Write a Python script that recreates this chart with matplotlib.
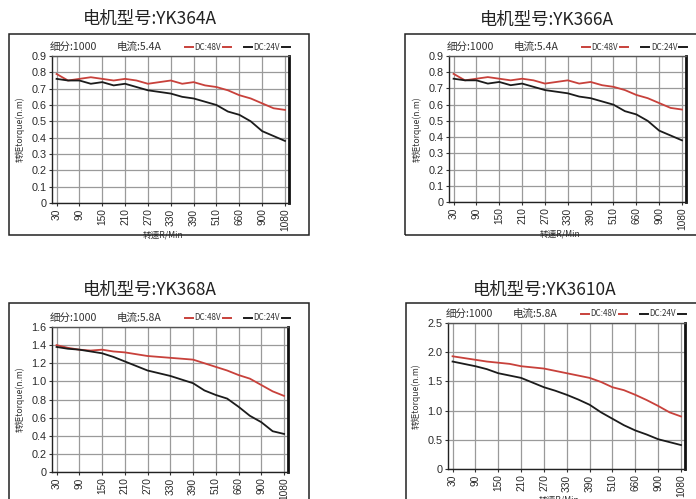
import matplotlib
matplotlib.use("Agg")
import matplotlib.pyplot as plt
from matplotlib.patches import Rectangle
from matplotlib.lines import Line2D

plt.rcParams['font.family'] = ['Noto Sans CJK SC', 'DejaVu Sans']

# ---------------- data ----------------
speed_labels = ["30", "90", "150", "210", "270", "330", "390", "510", "660", "900", "1080"]
n_points = 21

yk364a_48v = [0.79, 0.75, 0.76, 0.77, 0.76, 0.75, 0.76, 0.75, 0.73, 0.74, 0.75,
              0.73, 0.74, 0.72, 0.71, 0.69, 0.66, 0.64, 0.61, 0.58, 0.57]
yk364a_24v = [0.76, 0.75, 0.75, 0.73, 0.74, 0.72, 0.73, 0.71, 0.69, 0.68, 0.67,
              0.65, 0.64, 0.62, 0.60, 0.56, 0.54, 0.50, 0.44, 0.41, 0.38]

yk366a_48v = [0.79, 0.75, 0.76, 0.77, 0.76, 0.75, 0.76, 0.75, 0.73, 0.74, 0.75,
              0.73, 0.74, 0.72, 0.71, 0.69, 0.66, 0.64, 0.61, 0.58, 0.57]
yk366a_24v = [0.76, 0.75, 0.75, 0.73, 0.74, 0.72, 0.73, 0.71, 0.69, 0.68, 0.67,
              0.65, 0.64, 0.62, 0.60, 0.56, 0.54, 0.50, 0.44, 0.41, 0.38]

yk368a_48v = [1.40, 1.37, 1.35, 1.34, 1.35, 1.33, 1.32, 1.30, 1.28, 1.27, 1.26,
              1.25, 1.24, 1.20, 1.16, 1.12, 1.07, 1.03, 0.96, 0.89, 0.84]
yk368a_24v = [1.38, 1.36, 1.35, 1.33, 1.31, 1.27, 1.22, 1.17, 1.12, 1.09, 1.06,
              1.02, 0.98, 0.90, 0.85, 0.81, 0.72, 0.62, 0.55, 0.45, 0.42]

yk3610a_48v = [1.93, 1.90, 1.87, 1.84, 1.82, 1.80, 1.76, 1.74, 1.72, 1.68, 1.64,
               1.60, 1.56, 1.49, 1.40, 1.35, 1.27, 1.18, 1.08, 0.97, 0.90]
yk3610a_24v = [1.84, 1.80, 1.76, 1.71, 1.64, 1.60, 1.56, 1.48, 1.40, 1.34, 1.27,
               1.19, 1.10, 0.97, 0.86, 0.75, 0.66, 0.59, 0.51, 0.46, 0.41]

titles = ["电机型号:YK364A", "电机型号:YK366A", "电机型号:YK368A", "电机型号:YK3610A"]
currents = ["电流:5.4A", "电流:5.4A", "电流:5.8A", "电流:5.8A"]
subdiv = "细分:1000"
ytick_sets = [
    [0, 0.1, 0.2, 0.3, 0.4, 0.5, 0.6, 0.7, 0.8, 0.9],
    [0, 0.1, 0.2, 0.3, 0.4, 0.5, 0.6, 0.7, 0.8, 0.9],
    [0, 0.2, 0.4, 0.6, 0.8, 1.0, 1.2, 1.4, 1.6],
    [0, 0.5, 1.0, 1.5, 2.0, 2.5],
]
ytick_label_sets = [
    ["0", "0.1", "0.2", "0.3", "0.4", "0.5", "0.6", "0.7", "0.8", "0.9"],
    ["0", "0.1", "0.2", "0.3", "0.4", "0.5", "0.6", "0.7", "0.8", "0.9"],
    ["0", "0.2", "0.4", "0.6", "0.8", "1.0", "1.2", "1.4", "1.6"],
    ["0", "0.5", "1.0", "1.5", "2.0", "2.5"],
]
series_48 = [yk364a_48v, yk366a_48v, yk368a_48v, yk3610a_48v]
series_24 = [yk364a_24v, yk366a_24v, yk368a_24v, yk3610a_24v]

RED = "#c8413b"
BLACK = "#1b1b1b"

W, H = 696, 499
fig = plt.figure(figsize=(W / 100, H / 100), dpi=100)

def fx(px):
    return px / W

def fy(py):
    return 1 - py / H

# layout in pixels: frame (x0,y0,x1,y1), axes (left, top, right, bottom), title center
panels = [
    dict(frame=(9, 34, 309, 235), ax=(52, 56, 289, 203), title=(150, 19)),
    dict(frame=(405, 34, 740, 235), ax=(449, 56, 686, 202), title=(547, 20)),
    dict(frame=(9, 303, 309, 540), ax=(52, 327, 288, 472), title=(150, 290)),
    dict(frame=(406, 303, 740, 540), ax=(448, 323, 685, 469), title=(545, 290)),
]

for i, p in enumerate(panels):
    x0, y0, x1, y1 = p["frame"]
    fig.patches.append(Rectangle((fx(x0), fy(y1)), fx(x1 - x0), (y1 - y0) / H,
                                 transform=fig.transFigure, fill=False,
                                 edgecolor="#222222", linewidth=1.1, zorder=0))
    tx, ty = p["title"]
    fig.text(fx(tx), fy(ty), titles[i], ha="center", va="center",
             fontsize=12.5, color="#222222")

    l, t, r, b = p["ax"]
    ax = fig.add_axes([fx(l), fy(b), fx(r - l), (b - t) / H])
    xs = list(range(n_points))
    ax.plot(xs, series_48[i], color=RED, linewidth=1.3, zorder=3)
    ax.plot(xs, series_24[i], color=BLACK, linewidth=1.3, zorder=3)
    ax.set_xlim(-0.4, n_points - 1 + 0.35)
    yt = ytick_sets[i]
    ax.set_ylim(0, yt[-1])
    ax.set_xticks(list(range(0, n_points, 2)))
    ax.set_xticklabels(speed_labels, rotation=90, fontsize=7.3, color="#2a2a2a",
                       family=['Liberation Sans', 'DejaVu Sans'])
    ax.set_yticks(yt)
    ax.set_yticklabels(ytick_label_sets[i], fontsize=7.8, color="#2a2a2a",
                       family=['Liberation Sans', 'DejaVu Sans'])
    ax.tick_params(axis="both", length=2, width=0.8, pad=2, color="#333333")
    ax.grid(True, color="#9a9a9a", linewidth=0.9, zorder=1)
    ax.set_axisbelow(True)
    for side in ["left", "bottom"]:
        ax.spines[side].set_color("#222222")
        ax.spines[side].set_linewidth(1.0)
    ax.spines["top"].set_color("#555555")
    ax.spines["top"].set_linewidth(1.0)
    ax.spines["right"].set_color("#111111")
    ax.spines["right"].set_linewidth(2.0)

    ax.set_ylabel("转矩torque(n.m)", fontsize=6.2, color="#333333", labelpad=3)
    ax.yaxis.set_label_coords(-(27) / (r - l), 0.5)
    ax.set_xlabel("转速R/Min", fontsize=6.2, color="#333333")
    ax.xaxis.set_label_coords(0.47, -27 / (b - t))

    # header texts
    hy = t - 9
    fig.text(fx(l + 21), fy(hy), subdiv, ha="center", va="center",
             fontsize=7.6, color="#333333")
    fig.text(fx(l + 87), fy(hy), currents[i], ha="center", va="center",
             fontsize=7.6, color="#333333")
    # legend pieces
    for (sx, ex, col, lab) in [(l + 133, l + 179, RED, "DC:48V"),
                               (l + 192, l + 238, BLACK, "DC:24V")]:
        fig.lines.append(Line2D([fx(sx), fx(sx + 8)], [fy(hy), fy(hy)],
                                transform=fig.transFigure, color=col, linewidth=1.4))
        fig.lines.append(Line2D([fx(ex - 8), fx(ex)], [fy(hy), fy(hy)],
                                transform=fig.transFigure, color=col, linewidth=1.4))
        fig.text(fx((sx + ex) / 2), fy(hy), lab, ha="center", va="center",
                 fontsize=5.8, color="#333333")

fig.savefig("out.png", dpi=100, facecolor="white")
